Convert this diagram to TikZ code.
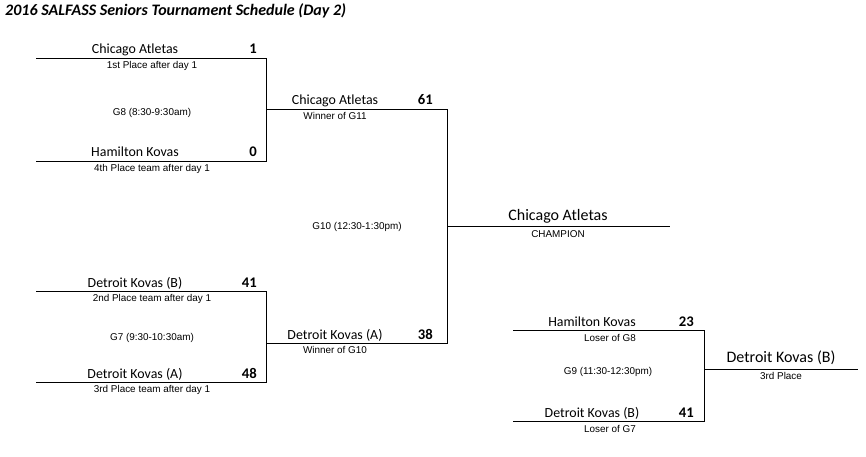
\documentclass[tikz,border=0pt]{standalone}
\usepackage{fontspec}
\setmainfont{Carlito}
\newfontfamily\notefont{Liberation Sans}
\usetikzlibrary{positioning}

\begin{document}
\begin{tikzpicture}[
  x=1pt, y=-1pt,
  team/.style={anchor=base, inner sep=0pt, font=\fontsize{13.9}{16}\selectfont},
  final/.style={anchor=base, inner sep=0pt, font=\fontsize{16}{19}\selectfont},
  score/.style={anchor=base east, inner sep=0pt, font=\fontsize{14.7}{17}\selectfont\bfseries},
  note/.style={anchor=base, inner sep=0pt, font=\notefont\fontsize{9.9}{11}\selectfont},
  bracket/.style={draw=black, line width=0.75pt}
]
  \useasboundingbox (0,0) rectangle (866,457);

  \node[anchor=base west, inner sep=0pt,
    font=\fontsize{16}{19}\selectfont\bfseries\itshape] (title) at (5,15.5)
    {2016 SALFASS Seniors Tournament Schedule (Day 2)};

  % bracket corners
  \coordinate (g8in1) at (36,58);
  \coordinate (g8c1) at (266,58);
  \coordinate (g8c2) at (266,161);
  \coordinate (g8in2) at (36,161);
  \coordinate (g8out) at (266,109);
  \coordinate (g7in1) at (36,291);
  \coordinate (g7c1) at (266,291);
  \coordinate (g7c2) at (266,382);
  \coordinate (g7in2) at (36,382);
  \coordinate (g7out) at (266,343);
  \coordinate (g10c1) at (447,109);
  \coordinate (g10c2) at (447,343);
  \coordinate (g10out) at (447,226);
  \coordinate (champ) at (670,226);
  \coordinate (g9in1) at (513,330);
  \coordinate (g9c1) at (704,330);
  \coordinate (g9c2) at (704,421);
  \coordinate (g9in2) at (513,421);
  \coordinate (g9out) at (704,369);
  \coordinate (third) at (858,369);

  \draw[bracket] (g8in1) -- (g8c1) -- (g8c2) -- (g8in2);
  \draw[bracket] (g7in1) -- (g7c1) -- (g7c2) -- (g7in2);
  \draw[bracket] (g8out) -- (g10c1) -- (g10c2) -- (g7out);
  \draw[bracket] (g10out) -- (champ);
  \draw[bracket] (g9in1) -- (g9c1) -- (g9c2) -- (g9in2);
  \draw[bracket] (g9out) -- (third);

  % G8
  \node[team] (g8team1) at (135,54) {Chicago Atletas};
  \node[score] (g8score1) at (257,54) {1};
  \node[note] (g8seed1) at (152,68.5) {1st Place after day 1};
  \node[note] (g8name) at (152,116) {G8 (8:30-9:30am)};
  \node[team] (g8team2) at (135,157) {Hamilton Kovas};
  \node[score] (g8score2) at (257,157) {0};
  \node[note] (g8seed2) at (152,171.5) {4th Place team after day 1};

  % G7
  \node[team] (g7team1) at (135,287) {Detroit Kovas (B)};
  \node[score] (g7score1) at (257,287) {41};
  \node[note] (g7seed1) at (152,301.5) {2nd Place team after day 1};
  \node[note] (g7name) at (152,340) {G7 (9:30-10:30am)};
  \node[team] (g7team2) at (135,378) {Detroit Kovas (A)};
  \node[score] (g7score2) at (257,378) {48};
  \node[note] (g7seed2) at (152,392.5) {3rd Place team after day 1};

  % G10
  \node[team] (g10team1) at (335,105) {Chicago Atletas};
  \node[score] (g10score1) at (433,105) {61};
  \node[note] (g10from1) at (335,120) {Winner of G11};
  \node[note] (g10name) at (357,229.5) {G10 (12:30-1:30pm)};
  \node[team] (g10team2) at (335,339) {Detroit Kovas (A)};
  \node[score] (g10score2) at (433,339) {38};
  \node[note] (g10from2) at (335,353.5) {Winner of G10};

  \node[final] (champteam) at (558,220) {Chicago Atletas};
  \node[note] (champlabel) at (558,237) {CHAMPION};

  % G9
  \node[team] (g9team1) at (592,326) {Hamilton Kovas};
  \node[score] (g9score1) at (694,326) {23};
  \node[note] (g9from1) at (610,341) {Loser of G8};
  \node[note] (g9name) at (608,374) {G9 (11:30-12:30pm)};
  \node[team] (g9team2) at (592,417) {Detroit Kovas (B)};
  \node[score] (g9score2) at (694,417) {41};
  \node[note] (g9from2) at (610,432) {Loser of G7};

  \node[final] (thirdteam) at (781,362) {Detroit Kovas (B)};
  \node[note] (thirdlabel) at (781,379) {3rd Place};
\end{tikzpicture}
\end{document}
